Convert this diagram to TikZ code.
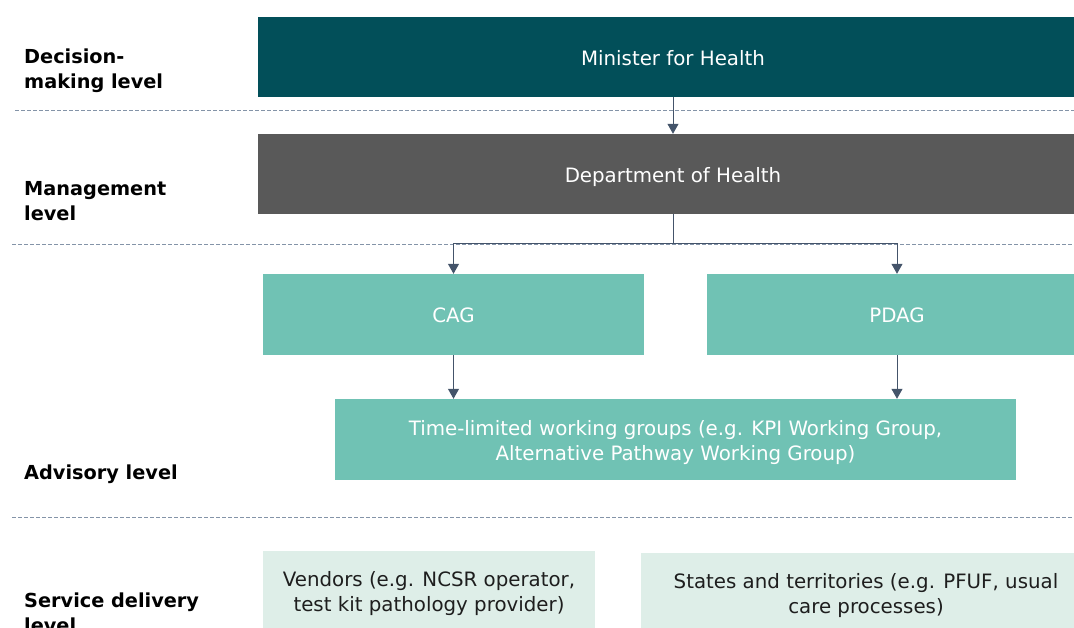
\documentclass[tikz,border=0pt]{standalone}
\usepackage{fontspec}
\setmainfont{DejaVu Sans}
\usetikzlibrary{arrows.meta}
\definecolor{mintc}{HTML}{024F59}
\definecolor{depc}{HTML}{595959}
\definecolor{tealc}{HTML}{70C2B4}
\definecolor{lightc}{HTML}{DEEEE8}
\definecolor{arrc}{HTML}{44546A}
\definecolor{dashc}{HTML}{8494A8}
\definecolor{txtc}{HTML}{1E1E1E}
\begin{document}
\begin{tikzpicture}[x=1pt,y=-1pt,
  box/.style={rectangle,inner sep=0pt,align=center,font=\fontsize{19.8}{25}\selectfont},
  oneline/.style={text height=16.5pt,text depth=0pt},
  darkbox/.style={box,fill=mintc,text=white},
  greybox/.style={box,fill=depc,text=white},
  tealbox/.style={box,fill=tealc,text=white},
  lightbox/.style={box,fill=lightc,text=txtc},
  lvl/.style={anchor=west,align=left,inner sep=0pt,font=\fontsize{19.3}{25}\selectfont\bfseries,text=black},
  sep/.style={draw=dashc,line width=0.9pt,dash pattern=on 3.5pt off 2.5pt},
  arr/.style={draw=arrc,line width=1pt,-{Triangle[length=10pt,width=11pt]}},
  ln/.style={draw=arrc,line width=1pt}]
\useasboundingbox (0,0) rectangle (1074,628);
\clip (0,0) rectangle (1074,628);
% separators
\draw[sep] (15,110) -- (1074,110);
\draw[sep] (12,244) -- (1074,244);
\draw[sep] (12,517) -- (1074,517);
% boxes
\node[darkbox,oneline,minimum width=830pt,minimum height=80pt] (min) at (673,57) {Minister for Health};
\node[greybox,oneline,minimum width=830pt,minimum height=80pt] (dep) at (673,174) {Department of Health};
\node[tealbox,oneline,minimum width=381pt,minimum height=81pt] (cag) at (453.5,314.5) {CAG};
\node[tealbox,oneline,minimum width=380pt,minimum height=81pt] (pdag) at (897,314.5) {PDAG};
\node[tealbox,minimum width=681pt,minimum height=81pt] (wg) at (675.5,439.5) {\rule{0pt}{21pt}Time-limited working groups (e.g. KPI Working Group,\\Alternative Pathway Working Group)};
\node[lightbox,minimum width=332pt,minimum height=83pt] (ven) at (429,592.5) {\rule{0pt}{17pt}Vendors (e.g. NCSR operator,\\test kit pathology provider)};
\node[lightbox,minimum width=450pt,minimum height=81pt] (sta) at (866,593.5) {\rule{0pt}{19pt}States and territories (e.g. PFUF, usual\\care processes)};
% level labels
\node[lvl] (l1) at (24,71) {Decision-\\making level};
\node[lvl] (l2) at (24,201) {Management\\level};
\node[lvl] (l3) at (24,474) {Advisory level};
\node[lvl] (l4) at (24,612.5) {Service delivery\\level};
% connectors
\coordinate (j) at (673,244);
\draw[arr] (min.south) -- (dep.north);
\draw[ln] (dep.south) -- (j);
\draw[arr] (j) -| (cag.north);
\draw[arr] (j) -| (pdag.north);
\draw[arr] (cag.south) -- (cag.south |- wg.north);
\draw[arr] (pdag.south) -- (pdag.south |- wg.north);
\end{tikzpicture}
\end{document}
